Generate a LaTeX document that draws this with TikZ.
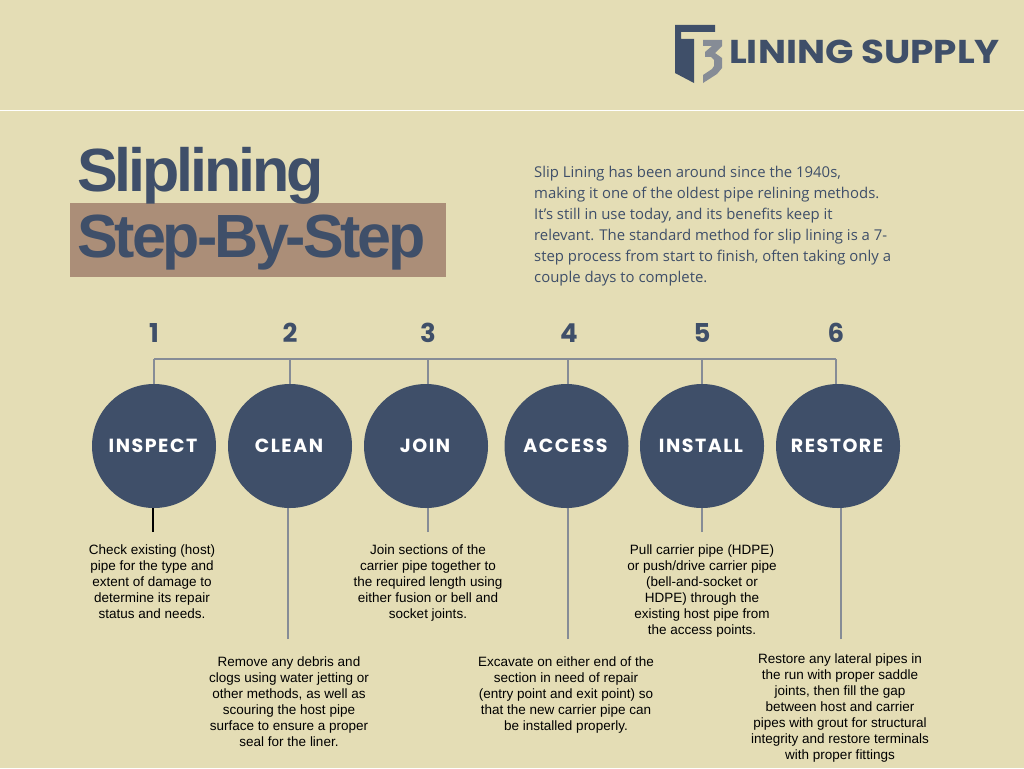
\documentclass[tikz,border=0pt]{standalone}
\usepackage{fontspec}
\setmainfont{Liberation Sans}
\newfontfamily\introfont{Open Sans}
\newfontfamily\stepfont[LetterSpace=8]{Poppins}
\newfontfamily\numfont{Poppins}
\newfontfamily\logofont[FakeStretch=1.13]{Poppins}
\newfontfamily\titlefont[LetterSpace=-5.1]{Liberation Sans}
\definecolor{paper}{HTML}{E4DDB5}
\definecolor{navy}{HTML}{3F4F69}
\definecolor{tan}{HTML}{AB8E78}
\definecolor{steel}{HTML}{868C96}
\tikzset{
  circ/.style={circle,fill=navy,minimum size=124pt,inner sep=0pt,text=white,font=\stepfont\bfseries\fontsize{19}{19}\selectfont},
  num/.style={text=navy,font=\numfont\bfseries\fontsize{26}{26}\selectfont},
  conn/.style={steel,line width=2pt},
  body/.style={align=center,inner sep=0pt,anchor=north,text=black,font=\fontsize{13.5}{16}\selectfont},
}
\begin{document}
\begin{tikzpicture}[x=1pt,y=-1pt]
  \useasboundingbox (0,0) rectangle (1024,768);
  % Fond
  \fill[paper] (0,0) rectangle (1024,768);
  \draw[white,line width=1pt] (0,110.5) -- (1024,110.5);

  % Logo
  \fill[navy] (675,25) -- (715,25) -- (715,32) -- (681,32) -- (681,39) -- (694,39) -- (694,83) -- (675,73) -- cycle;
  \fill[steel] (703,40) -- (722,40) -- (722,46) -- (715,53) -- (722,58) -- (722,68) -- (717,74) -- (703,83) -- (703,75) -- (712,69) -- (714,66) -- (714,60) -- (711,57) -- (705,57) -- (705,52) -- (712,46) -- (703,46) -- cycle;
  \node[anchor=west,inner sep=0pt,text=navy] (logo) at (729,52) {\logofont\bfseries\fontsize{33}{33}\selectfont LINING SUPPLY};

  % Titre
  \fill[tan] (70,203) rectangle (446,277);
  \node[anchor=base west,inner sep=0pt,text=navy] (title1) at (77,191) {\titlefont\bfseries\fontsize{61}{61}\selectfont Sliplining};
  \node[anchor=base west,inner sep=0pt,text=navy] (title2) at (77,257) {\titlefont\bfseries\fontsize{61}{61}\selectfont Step-By-Step};

  % Texte d'introduction
  \node[anchor=north west,inner sep=0pt,align=left,text=navy,font=\introfont\fontsize{14.9}{21}\selectfont] (intro) at (534,166) {Slip Lining has been around since the 1940s,\\making it one of the oldest pipe relining methods.\\It’s still in use today, and its benefits keep it\\relevant. The standard method for slip lining is a 7-\\step process from start to finish, often taking only a\\couple days to complete.};

  % Cercles et numeros
  \foreach \i/\xc/\xn/\xs/\lab in {1/154/154/154/INSPECT,2/290/290/290/CLEAN,3/426/428/428/JOIN,4/566.5/569/568/ACCESS,5/702/702/702/INSTALL,6/838/836/836/RESTORE}{
    \node[circ] (c\i) at (\xc,446) {\lab\kern2pt};
    \node[num] (n\i) at (\xn,333) {\i};
    \coordinate (t\i) at (\xs,359);
    \draw[conn] (t\i) -- (\xs,384);
  }
  \draw[conn] (t1) -- (t6);

  % Traits vers les textes
  \coordinate (e1) at (153,532);
  \coordinate (e2) at (288,639);
  \coordinate (e3) at (428,532);
  \coordinate (e4) at (568,639);
  \coordinate (e5) at (702,532);
  \coordinate (e6) at (841,639);
  \draw[black,line width=2pt] (e1) -- (e1 |- c1.south);
  \foreach \i in {2,...,6}{
    \draw[conn] (e\i) -- (e\i |- c\i.south);
  }

  % Textes des etapes
  \node[body] (s1) at (152,544.7) {Check existing (host)\\pipe for the type and\\extent of damage to\\determine its repair\\status and needs.};
  \node[body] (s2) at (289,656.7) {Remove any debris and\\clogs using water jetting or\\other methods, as well as\\scouring the host pipe\\surface to ensure a proper\\seal for the liner.};
  \node[body] (s3) at (428,544.7) {Join sections of the\\carrier pipe together to\\the required length using\\either fusion or bell and\\socket joints.};
  \node[body] (s4) at (566,656.7) {Excavate on either end of the\\section in need of repair\\(entry point and exit point) so\\that the new carrier pipe can\\be installed properly.};
  \node[body] (s5) at (702,544.7) {Pull carrier pipe (HDPE)\\or push/drive carrier pipe\\(bell-and-socket or\\HDPE) through the\\existing host pipe from\\the access points.};
  \node[body] (s6) at (840,653.7) {Restore any lateral pipes in\\the run with proper saddle\\joints, then fill the gap\\between host and carrier\\pipes with grout for structural\\integrity and restore terminals\\with proper fittings};
\end{tikzpicture}
\end{document}
